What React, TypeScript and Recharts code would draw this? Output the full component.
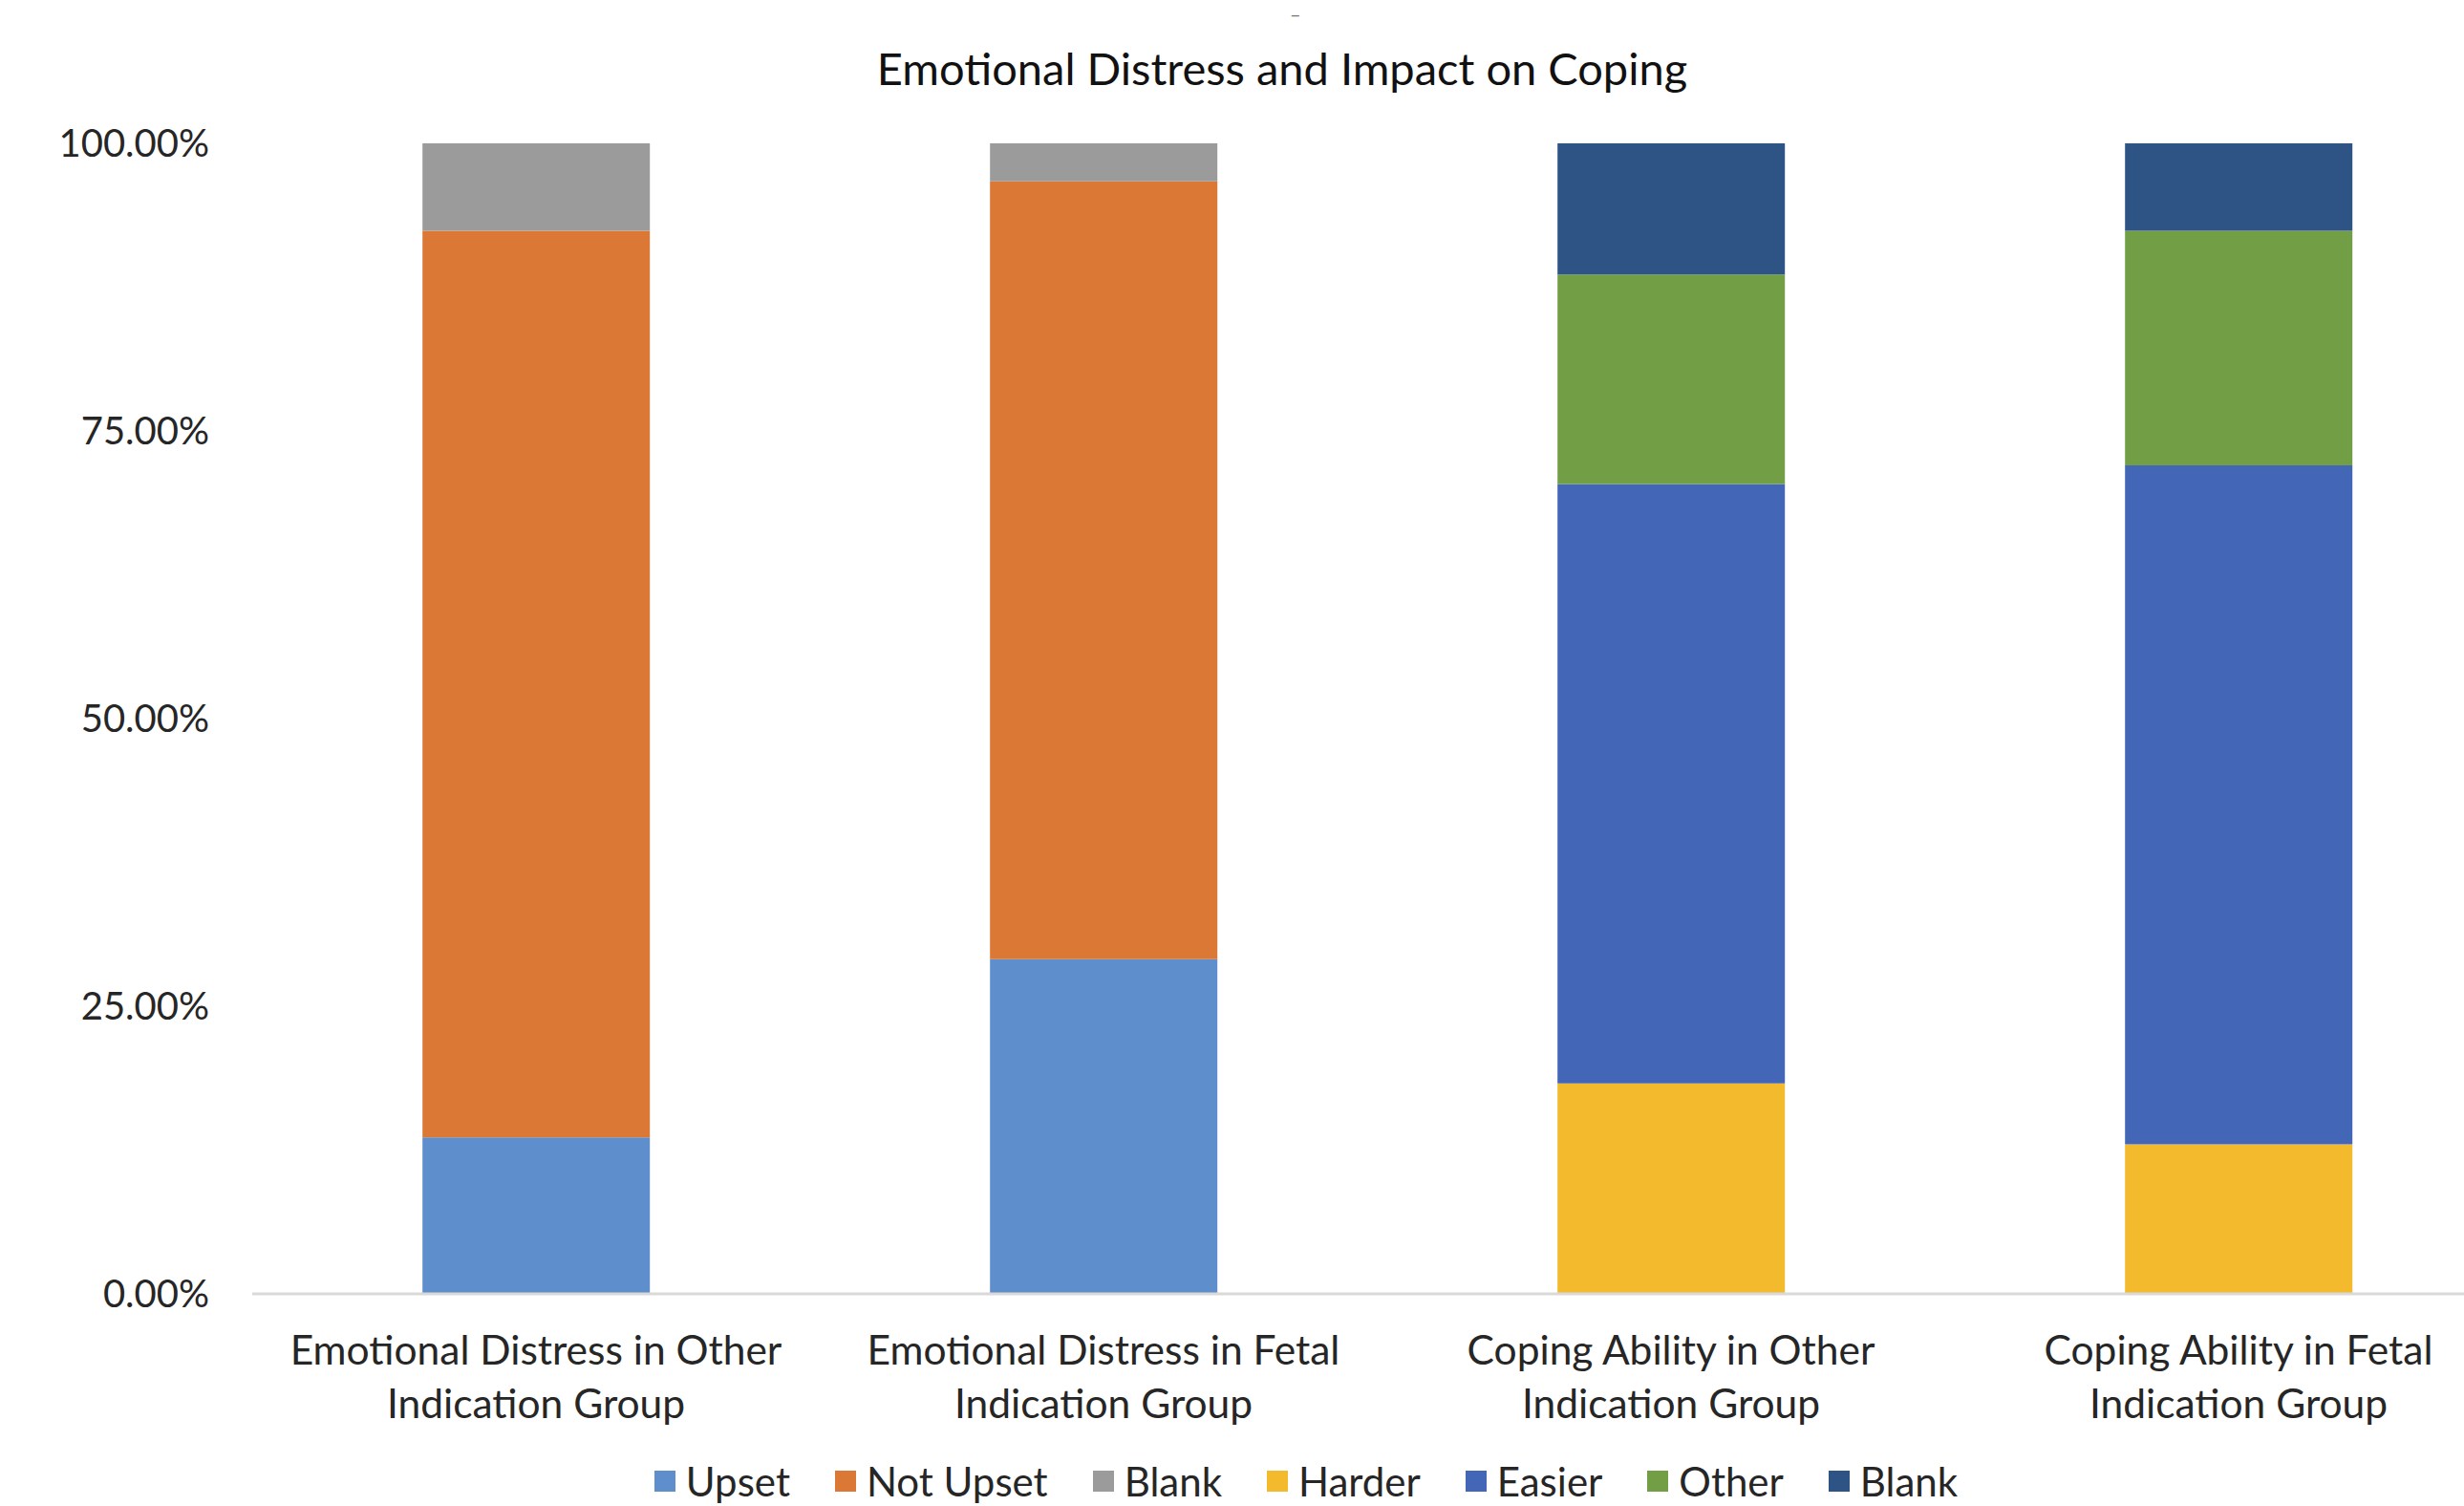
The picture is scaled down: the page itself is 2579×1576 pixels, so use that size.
import React from "react";
import { BarChart, Bar, XAxis, YAxis, Legend } from "recharts";

const categories = [
  "Emotional Distress in Other Indication Group",
  "Emotional Distress in Fetal Indication Group",
  "Coping Ability in Other Indication Group",
  "Coping Ability in Fetal Indication Group",
];
const tickLines = [
  ["Emotional Distress in Other", "Indication Group"],
  ["Emotional Distress in Fetal", "Indication Group"],
  ["Coping Ability in Other", "Indication Group"],
  ["Coping Ability in Fetal", "Indication Group"],
];
const upset = [13.6, 29.1, 0, 0];
const notUpset = [78.8, 67.6, 0, 0];
const blankDistress = [7.6, 3.3, 0, 0];
const harder = [0, 0, 18.3, 13.0];
const easier = [0, 0, 52.1, 59.0];
const other = [0, 0, 18.2, 20.4];
const blankCoping = [0, 0, 11.4, 7.6];
const yTicks = [0, 25, 50, 75, 100];

const series = [
  { key: "upset", name: "Upset", color: "#5E8ECB", values: upset },
  { key: "notUpset", name: "Not Upset", color: "#DB7835", values: notUpset },
  { key: "blank1", name: "Blank", color: "#9B9B9B", values: blankDistress },
  { key: "harder", name: "Harder", color: "#F3BA2D", values: harder },
  { key: "easier", name: "Easier", color: "#4466B7", values: easier },
  { key: "other", name: "Other", color: "#729F46", values: other },
  { key: "blank2", name: "Blank", color: "#2E5486", values: blankCoping },
];

const data = categories.map((c, i) => {
  const row: any = { category: c, idx: i };
  series.forEach((s) => (row[s.key] = s.values[i]));
  return row;
});

const FONT = "Lato, 'Open Sans', sans-serif";

const XTick = (props: any) => {
  const { x, y, index } = props;
  const lines = tickLines[index] || [];
  return (
    <g>
      {lines.map((l, i) => (
        <text
          key={i}
          x={x}
          y={y + 74 + i * 56}
          textAnchor="middle"
          fontFamily={FONT}
          fontSize={42.5}
          fill="#262626"
        >
          {l}
        </text>
      ))}
    </g>
  );
};

const LegendContent = () => (
  <div style={{ display: "flex", justifyContent: "center", alignItems: "center", fontFamily: FONT, fontSize: 42, lineHeight: "46px", color: "#262626" }}>
    {series.map((s, i) => (
      <div key={i} style={{ display: "flex", alignItems: "center", marginRight: i < series.length - 1 ? 47 : 0 }}>
        <div style={{ width: 22, height: 22, background: s.color, marginRight: 11 }} />
        <span>{s.name}</span>
      </div>
    ))}
  </div>
);

export default function App() {
  return (
    <div style={{ position: "fixed", left: 0, top: 0, width: 2579, height: 1576, overflow: "hidden", background: "#fff" }}>
      <div
        style={{
          position: "absolute",
          left: 0,
          width: 2684,
          top: 41,
          textAlign: "center",
          fontFamily: FONT,
          fontSize: 47,
          color: "#111",
          lineHeight: "60px",
        }}
      >
        Emotional Distress and Impact on Coping
      </div>
      <div style={{ position: "absolute", left: 1350, top: 2, fontFamily: FONT, fontSize: 20, color: "#777" }}>–</div>
      <div style={{ position: "absolute", left: 0, top: 0 }}>
        <BarChart
          width={2640}
          height={1576}
          data={data}
          margin={{ top: 150, right: 0, left: 0, bottom: 0 }}
          barCategoryGap="30%"
        >
          <XAxis
            dataKey="category"
            height={222}
            tick={<XTick />}
            tickLine={false}
            tickSize={0}
            tickMargin={0}
            axisLine={{ stroke: "#D9D9D9", strokeWidth: 3 }}
            interval={0}
          />
          <YAxis
            width={264}
            domain={[0, 100]}
            ticks={yTicks}
            tickFormatter={(v: number) => v.toFixed(2) + "%"}
            axisLine={false}
            tickLine={false}
            tickSize={0}
            tickMargin={45}
            tick={{ fontFamily: FONT, fontSize: 40, fill: "#262626" }}
          />
          <Legend
            verticalAlign="middle"
            layout="horizontal"
            content={<LegendContent />}
            wrapperStyle={{ top: 1527, left: 0, width: 2734 }}
          />
          {series.map((s) => (
            <Bar
              key={s.key}
              dataKey={s.key}
              name={s.name}
              stackId="a"
              fill={s.color}
              isAnimationActive={false}
            />
          ))}
        </BarChart>
      </div>
    </div>
  );
}
